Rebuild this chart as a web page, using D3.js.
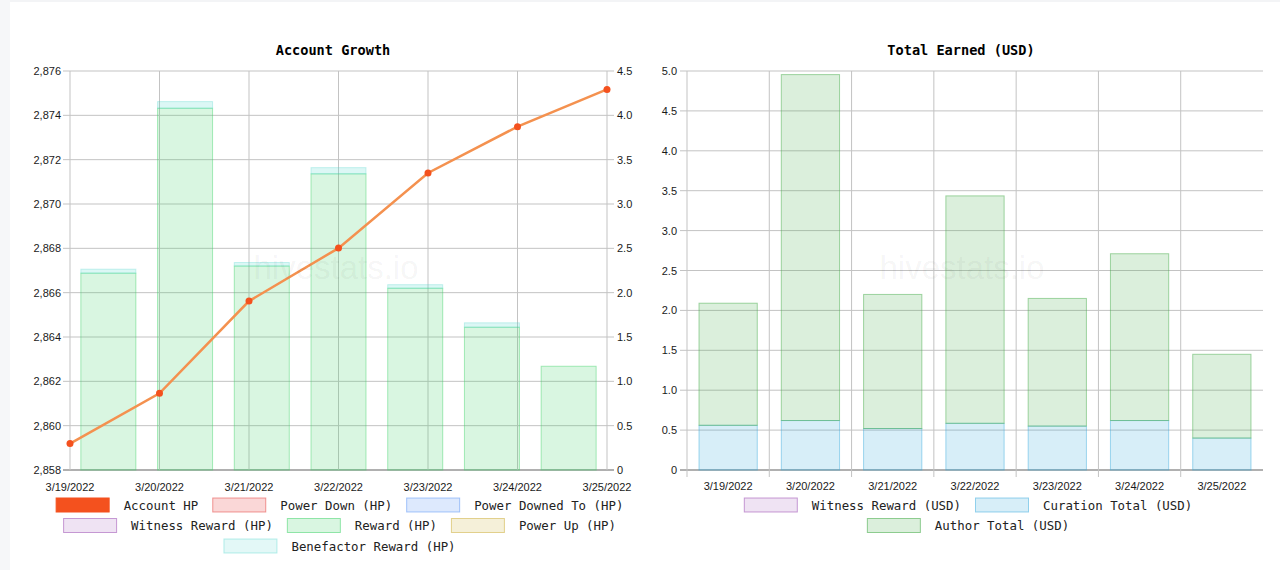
<!DOCTYPE html>
<html>
<head>
<meta charset="utf-8">
<script src="https://cdn.jsdelivr.net/npm/d3@7"></script>
<style>
  body { margin: 0; background: #fff; }
  svg { display: block; }
  .tick-label { font-family: "Liberation Sans", Arial, sans-serif; font-size: 11px; fill: #1a1a1a; }
  .title { font-family: "DejaVu Sans Mono", monospace; font-size: 13.6px; font-weight: bold; fill: #000; }
  .legend { font-family: "DejaVu Sans Mono", monospace; font-size: 12.4px; fill: #222; }
  .mark { font-family: "Liberation Sans", Arial, sans-serif; font-size: 33px; fill: #000; fill-opacity: 0.05; }
</style>
</head>
<body>
<svg id="chart" width="1280" height="570"></svg>
<script>
// dates shared by both charts
var dates = ['3/19/2022', '3/20/2022', '3/21/2022', '3/22/2022', '3/23/2022', '3/24/2022', '3/25/2022'];

// Account Growth
var accountHP = [2859.19, 2861.46, 2865.62, 2868.01, 2871.40, 2873.49, 2875.17];
var powerDownHP = [0, 0, 0, 0, 0, 0, 0];
var powerDownedToHP = [0, 0, 0, 0, 0, 0, 0];
var witnessRewardHP = [0, 0, 0, 0, 0, 0, 0];
var rewardHP = [2.22, 4.08, 2.30, 3.34, 2.05, 1.61, 1.17];
var powerUpHP = [0, 0, 0, 0, 0, 0, 0];
var benefactorHP = [0.045, 0.075, 0.04, 0.07, 0.04, 0.05, 0];
var hpTicks = [2858, 2860, 2862, 2864, 2866, 2868, 2870, 2872, 2874, 2876];
var rewardTicks = [0, 0.5, 1, 1.5, 2, 2.5, 3, 3.5, 4, 4.5];

// Total Earned (USD)
var witnessRewardUSD = [0, 0, 0, 0, 0, 0, 0];
var curationUSD = [0.56, 0.62, 0.52, 0.585, 0.55, 0.62, 0.40];
var authorUSD = [1.53, 4.335, 1.68, 2.85, 1.60, 2.09, 1.05];
var usdTicks = [0, 0.5, 1, 1.5, 2, 2.5, 3, 3.5, 4, 4.5, 5];

var svg = d3.select('#chart');
var gridColor = '#c3c3c3';

// page frame
svg.append('rect').attr('x', 0).attr('y', 0).attr('width', 10).attr('height', 570).attr('fill', '#f6f7f9');
svg.append('rect').attr('x', 10).attr('y', 0).attr('width', 1270).attr('height', 2).attr('fill', '#f3f4f6');

function swatchColor(base, fillOp, strokeOp) {
  return {fill: base, fillOp: fillOp, stroke: base, strokeOp: strokeOp};
}

function drawLegend(rows, cx, y0) {
  var lg = svg.append('g');
  rows.forEach(function(row, r) {
    var g = lg.append('g');
    var x = 0;
    row.forEach(function(item, i) {
      if (i > 0) x += 14;
      g.append('rect')
        .attr('x', x + 0.5).attr('y', y0 + r * 20.5 - 7)
        .attr('width', 53).attr('height', 14)
        .attr('fill', item.c.fill).attr('fill-opacity', item.c.fillOp)
        .attr('stroke', item.c.stroke).attr('stroke-opacity', item.c.strokeOp);
      x += 54 + 14;
      var t = g.append('text').attr('class', 'legend')
        .attr('x', x).attr('y', y0 + r * 20.5 + 4.5)
        .text(item.name);
      x += t.node().getComputedTextLength();
    });
    g.attr('transform', 'translate(' + (cx - x / 2) + ',0)');
  });
}

// ---------- Account Growth ----------
(function() {
  var left = 70, right = 607, top = 71, bottom = 470;
  var yHP = d3.scaleLinear().domain([2858, 2876]).range([bottom, top]);
  var yR = d3.scaleLinear().domain([0, 4.5]).range([bottom, top]);
  var xPt = d3.scalePoint().domain(dates).range([left, right]);
  var xBand = d3.scaleBand().domain(dates).range([left, right]).paddingInner(0.283).paddingOuter(0.1415);

  var g = svg.append('g');

  g.selectAll('line.hgrid').data(hpTicks).enter().append('line')
    .attr('x1', left - 7).attr('x2', right + 7)
    .attr('y1', (d) => yHP(d)).attr('y2', (d) => yHP(d))
    .attr('stroke', (d) => d === 2858 ? '#b0b0b0' : gridColor)
    .attr('stroke-width', (d) => d === 2858 ? 2 : 1);

  g.selectAll('line.vgrid').data(dates).enter().append('line')
    .attr('x1', (d) => xPt(d)).attr('x2', (d) => xPt(d))
    .attr('y1', top).attr('y2', bottom)
    .attr('stroke', gridColor);

  g.selectAll('text.yl').data(hpTicks).enter().append('text')
    .attr('class', 'tick-label').attr('text-anchor', 'end')
    .attr('x', left - 9).attr('y', (d) => yHP(d) + 4)
    .text(d3.format(','));

  g.selectAll('text.yr').data(rewardTicks).enter().append('text')
    .attr('class', 'tick-label')
    .attr('x', right + 10).attr('y', (d) => yR(d) + 4)
    .text((d) => d === 0 ? '0' : d3.format('.1f')(d));

  g.selectAll('text.xl').data(dates).enter().append('text')
    .attr('class', 'tick-label').attr('text-anchor', 'middle')
    .attr('x', (d) => xPt(d)).attr('y', 491)
    .text((d) => d);

  // stacked reward bars
  var green = '#43d36b', cyan = '#4fd6cc';
  g.selectAll('rect.reward').data(dates).enter().append('rect')
    .attr('x', (d) => xBand(d)).attr('width', xBand.bandwidth())
    .attr('y', (d, i) => yR(rewardHP[i])).attr('height', (d, i) => yR(0) - yR(rewardHP[i]))
    .attr('fill', green).attr('fill-opacity', 0.2)
    .attr('stroke', green).attr('stroke-opacity', 0.45);
  g.selectAll('rect.bene').data(dates).enter().append('rect')
    .attr('x', (d) => xBand(d)).attr('width', xBand.bandwidth())
    .attr('y', (d, i) => yR(rewardHP[i] + benefactorHP[i]))
    .attr('height', (d, i) => yR(rewardHP[i]) - yR(rewardHP[i] + benefactorHP[i]))
    .attr('fill', cyan).attr('fill-opacity', (d, i) => benefactorHP[i] ? 0.2 : 0)
    .attr('stroke', cyan).attr('stroke-opacity', (d, i) => benefactorHP[i] ? 0.3 : 0);

  var line = d3.line().x((d, i) => xPt(dates[i])).y((d) => yHP(d));
  g.append('path').datum(accountHP)
    .attr('d', line).attr('fill', 'none')
    .attr('stroke', '#f4914f').attr('stroke-width', 2.5);
  g.selectAll('circle.pt').data(accountHP).enter().append('circle')
    .attr('cx', (d, i) => xPt(dates[i])).attr('cy', (d) => yHP(d))
    .attr('r', 3.5).attr('fill', '#f4511e');

  svg.append('text').attr('class', 'mark').attr('text-anchor', 'middle')
    .attr('x', 336).attr('y', 279).text('hivestats.io');

  svg.append('text').attr('class', 'title').attr('text-anchor', 'middle')
    .attr('x', 333).attr('y', 55).text('Account Growth');

  drawLegend([
    [{name: 'Account HP', c: {fill: '#f4511e', fillOp: 1, stroke: '#f4511e', strokeOp: 1}},
     {name: 'Power Down (HP)', c: swatchColor('#e53935', 0.2, 0.5)},
     {name: 'Power Downed To (HP)', c: swatchColor('#4285f4', 0.18, 0.45)}],
    [{name: 'Witness Reward (HP)', c: swatchColor('#9c4fb4', 0.16, 0.55)},
     {name: 'Reward (HP)', c: swatchColor(green, 0.2, 0.55)},
     {name: 'Power Up (HP)', c: swatchColor('#c9aa2c', 0.18, 0.5)}],
    [{name: 'Benefactor Reward (HP)', c: swatchColor(cyan, 0.16, 0.4)}]
  ], 339.5, 505);
})();

// ---------- Total Earned (USD) ----------
(function() {
  var left = 687, right = 1263, top = 71, bottom = 470;
  var y = d3.scaleLinear().domain([0, 5]).range([bottom, top]);
  var x = d3.scaleBand().domain(dates).range([left, right]).paddingInner(0.292).paddingOuter(0.146);
  var edge = (i) => left + i * x.step();

  var g = svg.append('g');

  g.selectAll('line.hgrid').data(usdTicks).enter().append('line')
    .attr('x1', left - 7).attr('x2', right)
    .attr('y1', (d) => y(d)).attr('y2', (d) => y(d))
    .attr('stroke', (d) => d === 0 ? '#b0b0b0' : gridColor)
    .attr('stroke-width', (d) => d === 0 ? 2 : 1);

  g.selectAll('line.vgrid').data(d3.range(7)).enter().append('line')
    .attr('x1', (d) => edge(d)).attr('x2', (d) => edge(d))
    .attr('y1', top).attr('y2', bottom + 7)
    .attr('stroke', gridColor);

  g.selectAll('text.yl').data(usdTicks).enter().append('text')
    .attr('class', 'tick-label').attr('text-anchor', 'end')
    .attr('x', left - 10).attr('y', (d) => y(d) + 4)
    .text((d) => d === 0 ? '0' : d3.format('.1f')(d));

  g.selectAll('text.xl').data(dates).enter().append('text')
    .attr('class', 'tick-label').attr('text-anchor', 'middle')
    .attr('x', (d) => x(d) + x.bandwidth() / 2).attr('y', 490)
    .text((d) => d);

  var purple = '#9c4fb4', blue = '#35a9dc', green = '#4caf50';
  var stack = dates.map((d, i) => ({date: d, w: witnessRewardUSD[i], c: curationUSD[i], a: authorUSD[i]}));
  var series = d3.stack().keys(['w', 'c', 'a'])(stack);
  var fills = {w: purple, c: blue, a: green};
  var strokes = {w: 0.5, c: 0.45, a: 0.5};

  series.forEach(function(s) {
    g.selectAll('rect.s' + s.key).data(s).enter().append('rect')
      .attr('x', (d) => x(d.data.date)).attr('width', x.bandwidth())
      .attr('y', (d) => y(d[1])).attr('height', (d) => y(d[0]) - y(d[1]))
      .attr('fill', fills[s.key]).attr('fill-opacity', (d) => d[1] > d[0] ? 0.2 : 0)
      .attr('stroke', fills[s.key]).attr('stroke-opacity', (d) => d[1] > d[0] ? strokes[s.key] : 0);
  });

  svg.append('text').attr('class', 'mark').attr('text-anchor', 'middle')
    .attr('x', 962).attr('y', 279).text('hivestats.io');

  svg.append('text').attr('class', 'title').attr('text-anchor', 'middle')
    .attr('x', 961).attr('y', 55).text('Total Earned (USD)');

  drawLegend([
    [{name: 'Witness Reward (USD)', c: swatchColor(purple, 0.16, 0.55)},
     {name: 'Curation Total (USD)', c: swatchColor(blue, 0.2, 0.5)}],
    [{name: 'Author Total (USD)', c: swatchColor(green, 0.2, 0.6)}]
  ], 968, 505);
})();
</script>
</body>
</html>
